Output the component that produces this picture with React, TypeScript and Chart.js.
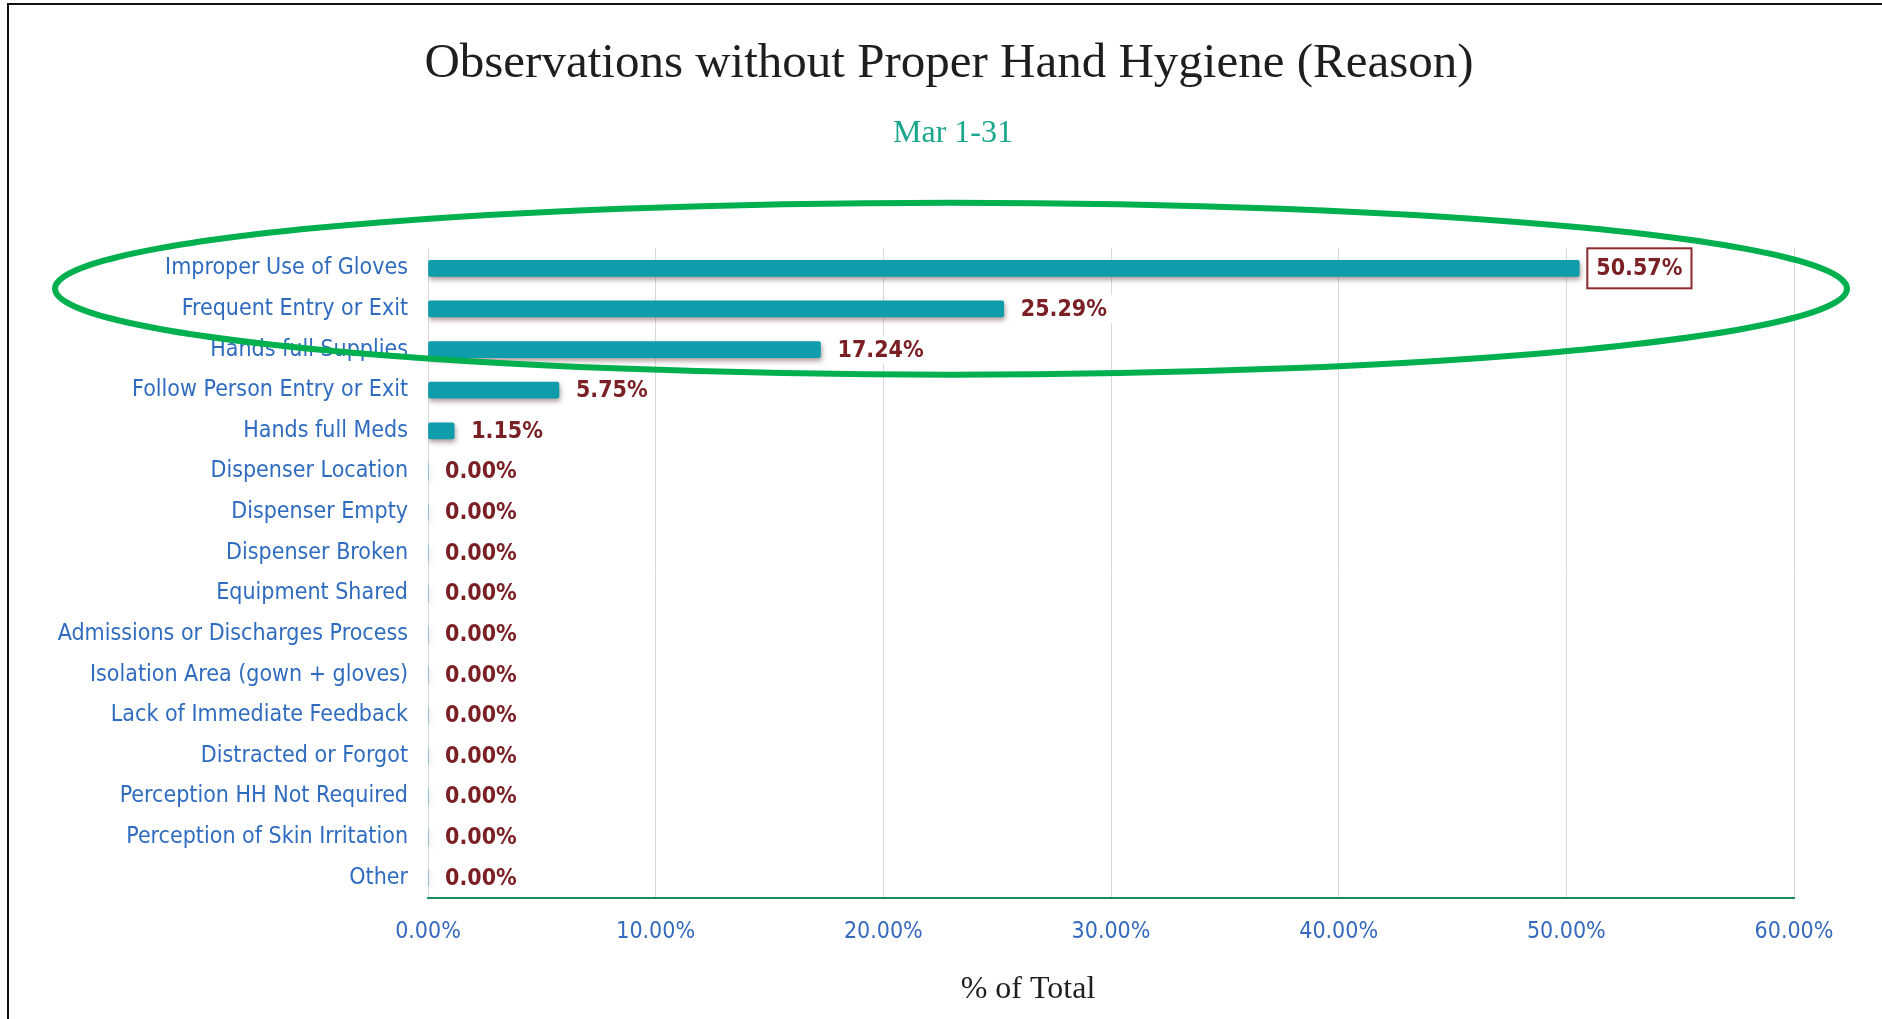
import { useEffect, useRef } from 'react';
import { Chart, registerables } from 'chart.js';

Chart.register(...registerables);

// Reasons recorded for missed hand hygiene, top to bottom
const reasons: string[] = [
  'Improper Use of Gloves',
  'Frequent Entry or Exit',
  'Hands full Supplies',
  'Follow Person Entry or Exit',
  'Hands full Meds',
  'Dispenser Location',
  'Dispenser Empty',
  'Dispenser Broken',
  'Equipment Shared',
  'Admissions or Discharges Process',
  'Isolation Area (gown + gloves)',
  'Lack of Immediate Feedback',
  'Distracted or Forgot',
  'Perception HH Not Required',
  'Perception of Skin Irritation',
  'Other',
];

// Share of all observations without proper hand hygiene (%)
const percentOfTotal: number[] = [
  50.57, 25.29, 17.24, 5.75, 1.15, 0, 0, 0, 0, 0, 0, 0, 0, 0, 0, 0,
];

const xMin = 0;
const xMax = 60;
const xStep = 10;

const chartTitle = 'Observations without Proper Hand Hygiene (Reason)';
const chartSubtitle = 'Mar 1-31';
const xAxisTitle = '% of Total';
const highlightedReason = 'Improper Use of Gloves';

const SANS = '"DejaVu Sans Condensed", "DejaVu Sans", sans-serif';
const SERIF = '"Liberation Serif", "DejaVu Serif", serif';

const WIDTH = 1882;
const HEIGHT = 1019;

const fmtPct = (v: number) => `${v.toFixed(2)}%`;

// White page with the black frame on the top and left edges
const framePlugin = {
  id: 'frame',
  beforeDraw(chart: any) {
    const { ctx, width, height } = chart;
    ctx.save();
    ctx.fillStyle = '#ffffff';
    ctx.fillRect(0, 0, width, height);
    ctx.fillStyle = '#111111';
    ctx.fillRect(7, 3, width - 7, 2);
    ctx.fillRect(7, 3, 2, height - 3);
    ctx.restore();
  },
};

// Soft drop shadow under the bars
const barShadowPlugin = {
  id: 'barShadow',
  beforeDatasetsDraw(chart: any) {
    const { ctx } = chart;
    ctx.save();
    ctx.shadowColor = 'rgba(95, 60, 60, 0.5)';
    ctx.shadowBlur = 5;
    ctx.shadowOffsetX = 1;
    ctx.shadowOffsetY = 3;
  },
  afterDatasetsDraw(chart: any) {
    chart.ctx.restore();
  },
};

// Percentage labels at the end of each bar
const valueLabelPlugin = {
  id: 'valueLabels',
  afterDatasetsDraw(chart: any) {
    const { ctx } = chart;
    const meta = chart.getDatasetMeta(0);
    const values = chart.data.datasets[0].data as number[];
    const labels = chart.data.labels as string[];
    ctx.save();
    ctx.font = `bold 23px ${SANS}`;
    ctx.textBaseline = 'middle';
    ctx.textAlign = 'left';
    meta.data.forEach((bar: any, i: number) => {
      const text = fmtPct(values[i]);
      const w = ctx.measureText(text).width;
      const x0 = bar.x + 17;
      const y = bar.y;
      ctx.fillStyle = '#ffffff';
      ctx.fillRect(x0 - 6, y - 14, w + 12, 28);
      ctx.fillStyle = '#7a1f24';
      ctx.fillText(text, x0, y + 1);
      if (labels[i] === highlightedReason) {
        ctx.strokeStyle = '#8c2b2e';
        ctx.lineWidth = 2;
        ctx.strokeRect(x0 - 9, y - 20, w + 18, 40);
      }
    });
    ctx.restore();
  },
};

// Title, period and axis caption
const headingsPlugin = {
  id: 'headings',
  afterDraw(chart: any) {
    const { ctx, chartArea } = chart;
    ctx.save();
    ctx.textAlign = 'center';
    ctx.textBaseline = 'middle';
    ctx.fillStyle = '#1e1e1e';
    ctx.font = `49px ${SERIF}`;
    ctx.fillText(chartTitle, 949, 64);
    ctx.fillStyle = '#19a68c';
    ctx.font = `32px ${SERIF}`;
    ctx.fillText(chartSubtitle, 953, 134);
    ctx.fillStyle = '#1e1e1e';
    ctx.font = `32px ${SERIF}`;
    ctx.fillText(xAxisTitle, chartArea.left + 600, 990);
    ctx.restore();
  },
};

// Green ellipse drawn around the leading reasons
const ellipsePlugin = {
  id: 'focusEllipse',
  afterDraw(chart: any) {
    const { ctx } = chart;
    const yScale = chart.scales.y;
    const cy = yScale.getPixelForValue(0.5);
    ctx.save();
    ctx.strokeStyle = '#00b04f';
    ctx.lineWidth = 6;
    ctx.beginPath();
    ctx.ellipse(951, cy, 896, 86, 0, 0, Math.PI * 2);
    ctx.stroke();
    ctx.restore();
  },
};

export default function App() {
  const canvasRef = useRef<HTMLCanvasElement | null>(null);

  useEffect(() => {
    const canvas = canvasRef.current;
    if (!canvas) return;
    const chart = new Chart(canvas, {
      type: 'bar',
      data: {
        labels: reasons,
        datasets: [
          {
            data: percentOfTotal,
            backgroundColor: '#0f9dab',
            barThickness: 16,
            borderRadius: 2,
            borderSkipped: false,
          },
        ],
      },
      options: {
        indexAxis: 'y',
        responsive: false,
        animation: false,
        devicePixelRatio: 1,
        layout: { padding: { top: 248, right: 88, left: 0, bottom: 0 } },
        plugins: {
          legend: { display: false },
          tooltip: { enabled: false },
          title: { display: false },
        },
        scales: {
          x: {
            type: 'linear',
            min: xMin,
            max: xMax,
            ticks: {
              stepSize: xStep,
              callback: (v: any) => fmtPct(Number(v)),
              color: '#3569bd',
              font: { family: SANS, size: 23 },
              padding: 20,
              maxRotation: 0,
            },
            grid: { color: '#d9d9de', lineWidth: 1, drawTicks: false },
            border: { display: true, color: '#1d8c5c', width: 2 },
            afterFit: (scale: any) => {
              scale.height = 121;
            },
          },
          y: {
            ticks: {
              color: '#2f6cc0',
              font: { family: SANS, size: 23 },
              padding: 20,
              autoSkip: false,
            },
            grid: { display: false, drawTicks: false },
            border: { display: false },
            afterFit: (scale: any) => {
              scale.width = 428;
            },
          },
        },
      } as any,
      plugins: [framePlugin, barShadowPlugin, valueLabelPlugin, headingsPlugin, ellipsePlugin],
    });
    return () => chart.destroy();
  }, []);

  return (
    <div style={{ position: 'absolute', left: 0, top: 0, width: WIDTH, height: HEIGHT }}>
      <canvas ref={canvasRef} width={WIDTH} height={HEIGHT} style={{ display: 'block' }} />
    </div>
  );
}
